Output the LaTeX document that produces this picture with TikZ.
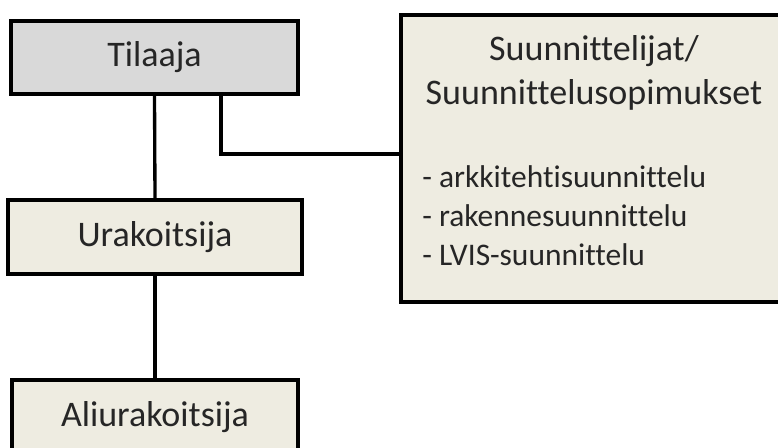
\documentclass[tikz,border=0pt]{standalone}
\usepackage{fontspec}
\setmainfont{Carlito}[Ligatures=NoCommon]
\usetikzlibrary{calc}
\definecolor{boxgray}{HTML}{D9D9D9}
\definecolor{boxtan}{HTML}{EEECE1}
\definecolor{ink}{HTML}{262626}
\tikzset{
  orgbox/.style={draw=black, line width=2.7pt, rectangle, inner sep=0pt,
    text=ink, font=\fontsize{27}{33}\selectfont},
  link/.style={draw=black, line width=2.5pt},
}
\begin{document}
\begin{tikzpicture}[x=0.75pt, y=-0.75pt]
  \useasboundingbox (0,0) rectangle (778,448);
  \clip (0,0) rectangle (778,448);
  % organisation boxes
  \node[orgbox, fill=boxgray, minimum width=287*0.75pt, minimum height=73*0.75pt]
    (tilaaja) at (154.5,57.5) {Tilaaja};
  \node[orgbox, fill=boxtan, minimum width=294*0.75pt, minimum height=74*0.75pt]
    (urakoitsija) at (155,237) {Urakoitsija};
  \node[orgbox, fill=boxtan, minimum width=286*0.75pt, minimum height=74*0.75pt]
    (aliurakoitsija) at (155,417) {Aliurakoitsija};
  \node[orgbox, fill=boxtan, minimum width=389*0.75pt, minimum height=287*0.75pt]
    (designers) at (595.5,158.5) {};
  % designer box contents
  \node[text=ink, font=\fontsize{27}{33}\selectfont, align=center, anchor=north]
    (dtitle) at (594,31) {Suunnittelijat/\\Suunnittelusopimukset};
  \node[text=ink, font=\fontsize{23.6}{29.3}\selectfont, align=left, anchor=north west, inner sep=0pt]
    (dlist) at (422,165) {- arkkitehtisuunnittelu\\- rakennesuunnittelu\\- LVIS-suunnittelu};
  % connectors
  \coordinate (tap) at (221,94);
  \coordinate (joint) at (401,154);
  \draw[link] (tilaaja.south) -- (urakoitsija.north);
  \draw[link] (urakoitsija.south) -- (aliurakoitsija.north);
  \draw[link] (tap |- tilaaja.south) |- (joint);
\end{tikzpicture}
\end{document}
